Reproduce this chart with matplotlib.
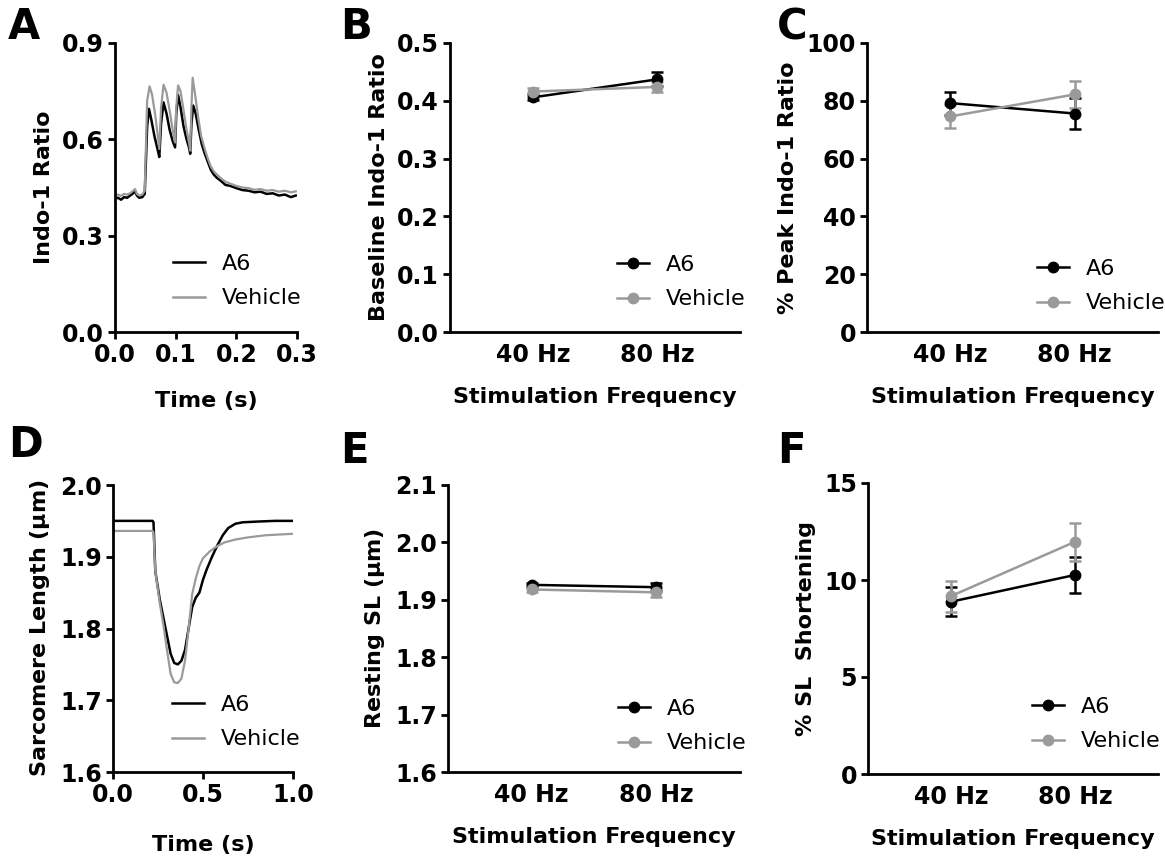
import matplotlib
matplotlib.use("Agg")
import matplotlib.pyplot as plt
from matplotlib.lines import Line2D
import numpy as np

plt.rcParams['font.family'] = ['DejaVu Sans']
plt.rcParams['font.weight'] = 'bold'
plt.rcParams['axes.labelweight'] = 'bold'
plt.rcParams['mathtext.fontset'] = 'dejavusans'

BLACK = '#000000'
GRAY = '#9a9a9a'

# ---- panel A: Indo-1 ratio traces ----
a_t_a6 = [0.000, 0.005, 0.010, 0.015, 0.020, 0.025, 0.030, 0.033, 0.036, 0.040,
          0.045, 0.049, 0.053, 0.056, 0.060, 0.065, 0.070, 0.073, 0.076, 0.080,
          0.085, 0.090, 0.095, 0.099, 0.101, 0.104, 0.108, 0.113, 0.118, 0.122,
          0.124, 0.126, 0.129, 0.133, 0.138, 0.143, 0.148, 0.153, 0.158, 0.163,
          0.168, 0.175, 0.182, 0.190, 0.200, 0.210, 0.220, 0.230, 0.240, 0.250,
          0.260, 0.270, 0.280, 0.290, 0.298]
a_y_a6 = [0.415, 0.418, 0.412, 0.420, 0.418, 0.425, 0.432, 0.440, 0.425, 0.418,
          0.420, 0.430, 0.640, 0.695, 0.660, 0.610, 0.570, 0.545, 0.650, 0.715,
          0.680, 0.630, 0.595, 0.575, 0.680, 0.738, 0.700, 0.640, 0.600, 0.575,
          0.555, 0.650, 0.705, 0.680, 0.630, 0.585, 0.555, 0.530, 0.505, 0.490,
          0.480, 0.470, 0.458, 0.455, 0.448, 0.442, 0.440, 0.435, 0.437, 0.430,
          0.432, 0.425, 0.428, 0.420, 0.425]
a_t_veh = [0.000, 0.005, 0.010, 0.015, 0.020, 0.025, 0.030, 0.033, 0.036, 0.040,
           0.045, 0.049, 0.053, 0.057, 0.061, 0.066, 0.070, 0.073, 0.076, 0.080,
           0.085, 0.090, 0.095, 0.099, 0.101, 0.104, 0.108, 0.113, 0.118, 0.122,
           0.124, 0.126, 0.128, 0.132, 0.137, 0.142, 0.148, 0.153, 0.158, 0.163,
           0.168, 0.175, 0.182, 0.190, 0.200, 0.210, 0.220, 0.230, 0.240, 0.250,
           0.260, 0.270, 0.280, 0.290, 0.298]
a_y_veh = [0.425, 0.428, 0.424, 0.430, 0.428, 0.432, 0.440, 0.445, 0.430, 0.425,
           0.428, 0.440, 0.720, 0.765, 0.740, 0.680, 0.620, 0.570, 0.700, 0.770,
           0.745, 0.690, 0.630, 0.590, 0.700, 0.768, 0.750, 0.690, 0.630, 0.590,
           0.565, 0.700, 0.792, 0.740, 0.670, 0.610, 0.570, 0.540, 0.515, 0.500,
           0.490, 0.478, 0.468, 0.462, 0.455, 0.450, 0.448, 0.443, 0.445, 0.440,
           0.442, 0.437, 0.440, 0.435, 0.438]

# ---- panel D: sarcomere length traces ----
d_t_a6 = [0.00, 0.10, 0.22, 0.225, 0.235, 0.26, 0.28, 0.30, 0.32, 0.34, 0.36,
          0.38, 0.40, 0.42, 0.44, 0.46, 0.48, 0.50, 0.52, 0.55, 0.58, 0.61,
          0.64, 0.68, 0.72, 0.80, 0.90, 1.00]
d_y_a6 = [1.950, 1.950, 1.950, 1.948, 1.880, 1.840, 1.815, 1.790, 1.765, 1.752,
          1.750, 1.755, 1.770, 1.800, 1.830, 1.843, 1.850, 1.868, 1.882, 1.900,
          1.916, 1.930, 1.940, 1.946, 1.948, 1.949, 1.950, 1.950]
d_t_veh = [0.00, 0.22, 0.225, 0.235, 0.26, 0.28, 0.30, 0.32, 0.34, 0.36, 0.38,
           0.40, 0.42, 0.44, 0.46, 0.48, 0.50, 0.54, 0.58, 0.62, 0.68, 0.75,
           0.85, 1.00]
d_y_veh = [1.936, 1.936, 1.934, 1.880, 1.835, 1.805, 1.770, 1.737, 1.725, 1.724,
           1.730, 1.755, 1.800, 1.848, 1.870, 1.887, 1.898, 1.908, 1.915, 1.920,
           1.924, 1.927, 1.930, 1.932]

# ---- summary panels (mean +/- SEM) ----
freqs = ['40 Hz', '80 Hz']

b_a6 = [0.406, 0.437]
b_a6_err = [0.005, 0.012]
b_veh = [0.416, 0.424]
b_veh_err = [0.006, 0.008]

c_a6 = [79.2, 75.6]
c_a6_err = [4.0, 5.2]
c_veh = [74.6, 82.2]
c_veh_err = [4.0, 4.6]

e_a6 = [1.926, 1.922]
e_a6_err = [0.004, 0.007]
e_veh = [1.918, 1.913]
e_veh_err = [0.005, 0.008]

f_a6 = [8.88, 10.26]
f_a6_err = [0.74, 0.93]
f_veh = [9.17, 11.97]
f_veh_err = [0.80, 0.97]

W, H = 1165, 858
fig = plt.figure(figsize=(W / 100, H / 100), dpi=100)


def add_axes(x0, y0, x1, y1):
    # pixel box -> figure fraction
    return fig.add_axes([x0 / W, 1 - y1 / H, (x1 - x0) / W, (y1 - y0) / H])


def style(ax):
    for s in ['top', 'right']:
        ax.spines[s].set_visible(False)
    for s in ['left', 'bottom']:
        ax.spines[s].set_linewidth(2.0)
    ax.tick_params(width=2.0, length=5, labelsize=17, pad=3)
    for lab in ax.get_xticklabels() + ax.get_yticklabels():
        lab.set_fontweight('bold')


def legend(ax, px, py, marker=None):
    handles = [Line2D([], [], color=BLACK, lw=1.8, marker=marker, ms=7.5),
               Line2D([], [], color=GRAY, lw=1.8, marker=marker, ms=7.5)]
    ax.legend(handles, ['A6', 'Vehicle'], loc='upper left',
              bbox_to_anchor=(px / W, 1 - py / H),
              bbox_transform=fig.transFigure, frameon=False,
              prop={'weight': 'normal', 'size': 16}, borderpad=0,
              borderaxespad=0, handlelength=1.45, handletextpad=0.75,
              labelspacing=0.65)


def summary(ax, a6, a6e, veh, vehe):
    x = np.arange(len(freqs))
    ax.errorbar(x, a6, yerr=a6e, color=BLACK, marker='o', ms=7.5, lw=1.8,
                capsize=4.5, capthick=1.8, elinewidth=1.8)
    ax.errorbar(x, veh, yerr=vehe, color=GRAY, marker='o', ms=7.5, lw=1.8,
                capsize=4.5, capthick=1.8, elinewidth=1.8)
    ax.set_xticks(x)
    ax.set_xticklabels(freqs)
    ax.set_xlim(-0.67, 1.67)
    ax.set_xlabel('Stimulation Frequency', fontsize=16, labelpad=14)


# A
axA = add_axes(115, 43, 297, 332)
axA.plot(a_t_a6, a_y_a6, color=BLACK, lw=1.8)
axA.plot(a_t_veh, a_y_veh, color=GRAY, lw=1.6)
axA.set_xlim(0, 0.3)
axA.set_ylim(0, 0.9)
axA.set_xticks([0.0, 0.1, 0.2, 0.3])
axA.set_yticks([0.0, 0.3, 0.6, 0.9])
axA.set_xlabel('Time (s)', fontsize=16, labelpad=17)
axA.set_ylabel('Indo-1 Ratio', fontsize=16, labelpad=6)
style(axA)
legend(axA, 173, 254)

# B
axB = add_axes(450, 43, 740, 332)
summary(axB, b_a6, b_a6_err, b_veh, b_veh_err)
axB.set_ylim(0, 0.5)
axB.set_yticks(np.arange(0, 0.51, 0.1))
axB.set_ylabel('Baseline Indo-1 Ratio', fontsize=16, labelpad=6)
style(axB)
axB.tick_params(axis='x', length=0, pad=8)
legend(axB, 617, 255, 'o')

# C
axC = add_axes(867, 43, 1158, 332)
summary(axC, c_a6, c_a6_err, c_veh, c_veh_err)
axC.set_ylim(0, 100)
axC.set_yticks(np.arange(0, 101, 20))
axC.set_ylabel('% Peak Indo-1 Ratio', fontsize=16, labelpad=6)
style(axC)
axC.tick_params(axis='x', length=0, pad=8)
legend(axC, 1037, 259, 'o')

# D
axD = add_axes(113, 485, 293, 772)
axD.plot(d_t_a6, d_y_a6, color=BLACK, lw=1.8)
axD.plot(d_t_veh, d_y_veh, color=GRAY, lw=1.6)
axD.set_xlim(0, 1.0)
axD.set_ylim(1.6, 2.0)
axD.set_xticks([0.0, 0.5, 1.0])
axD.set_yticks(np.arange(1.6, 2.01, 0.1))
axD.set_xlabel('Time (s)', fontsize=16, labelpad=20)
axD.set_ylabel(r'Sarcomere Length $\mathrm{(μm)}$', fontsize=16, labelpad=6)
style(axD)
legend(axD, 172, 695)

# E
axE = add_axes(448, 485, 740, 772)
summary(axE, e_a6, e_a6_err, e_veh, e_veh_err)
axE.set_ylim(1.6, 2.1)
axE.set_yticks(np.arange(1.6, 2.11, 0.1))
axE.set_ylabel(r'Resting SL $\mathrm{(μm)}$', fontsize=16, labelpad=6)
style(axE)
axE.tick_params(axis='x', length=0, pad=8)
legend(axE, 618, 699, 'o')

# F
axF = add_axes(868, 483, 1158, 774)
summary(axF, f_a6, f_a6_err, f_veh, f_veh_err)
axF.set_ylim(0, 15)
axF.set_yticks([0, 5, 10, 15])
axF.set_ylabel('% SL  Shortening', fontsize=16, labelpad=6)
style(axF)
axF.tick_params(axis='x', length=0, pad=8)
legend(axF, 1032, 697, 'o')

for ax in [axA, axB, axD, axE]:
    ax.yaxis.set_major_formatter(matplotlib.ticker.FormatStrFormatter('%.1f'))
for ax in [axA, axD]:
    ax.xaxis.set_major_formatter(matplotlib.ticker.FormatStrFormatter('%.1f'))

for lab, (px, py) in zip('ABCDEF', [(8, 6), (340, 6), (777, 6),
                                    (8, 424), (340, 430), (777, 430)]):
    fig.text(px / W, 1 - py / H, lab, fontsize=30, fontweight='bold',
             ha='left', va='top')

fig.savefig('out.png', dpi=100)
